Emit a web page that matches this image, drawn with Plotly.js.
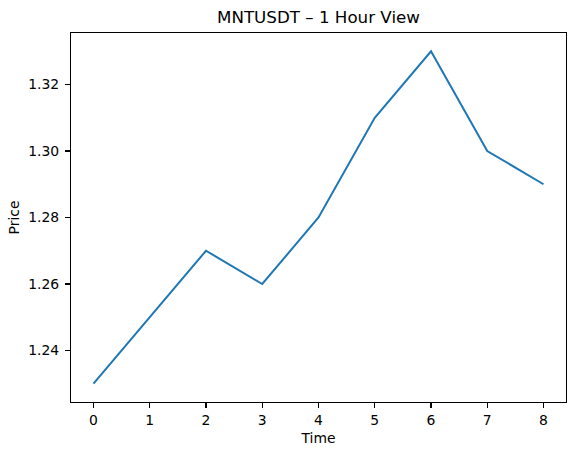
<!DOCTYPE html>
<html>
<head>
<meta charset="utf-8">
<script src="https://cdn.plot.ly/plotly-3.0.1.min.js"></script>
<style>html,body{margin:0;padding:0;background:#fff}#chart{width:576px;height:455px}</style>
</head>
<body>
<div id="chart"></div>
<script>
const timeIdx = [0, 1, 2, 3, 4, 5, 6, 7, 8];
const price = [1.23, 1.25, 1.27, 1.26, 1.28, 1.31, 1.33, 1.30, 1.29];
const xTicks = [0, 1, 2, 3, 4, 5, 6, 7, 8];
const yTicks = [1.24, 1.26, 1.28, 1.30, 1.32];
const yTickText = ["1.24", "1.26", "1.28", "1.30", "1.32"];

const font = {family: "DejaVu Sans", color: "#000"};
const axisCommon = {
  showgrid: false, zeroline: false, showline: true, mirror: true,
  linecolor: "#000", linewidth: 1.1, ticks: "outside", ticklen: 5,
  tickwidth: 1.1, tickcolor: "#000",
  tickfont: {family: "DejaVu Sans", size: 13.9, color: "#000"}
};
Plotly.newPlot("chart", [{
  x: timeIdx, y: price, type: "scatter", mode: "lines",
  line: {color: "#1f77b4", width: 2}
}], {
  width: 576, height: 455,
  margin: {l: 70.5, r: 10, t: 32.5, b: 53.3},
  paper_bgcolor: "#fff", plot_bgcolor: "#fff",
  showlegend: false,
  font: font,
  title: {text: "MNTUSDT – 1 Hour View", font: {family: "DejaVu Sans", size: 16.7, color: "#000"},
          x: 0.5, xref: "paper", y: 0.962, yref: "container", yanchor: "middle"},
  xaxis: Object.assign({}, axisCommon, {
    range: [-0.4, 8.4], tickvals: xTicks,
    title: {text: "Time", font: {family: "DejaVu Sans", size: 13.9, color: "#000"}, standoff: 6}
  }),
  yaxis: Object.assign({}, axisCommon, {
    range: [1.2245, 1.3355], tickvals: yTicks, ticktext: yTickText,
    ticklabelstandoff: 3,
    title: {text: "Price", font: {family: "DejaVu Sans", size: 13.9, color: "#000"}, standoff: 5}
  })
}, {displayModeBar: false, staticPlot: true});
</script>
</body>
</html>
